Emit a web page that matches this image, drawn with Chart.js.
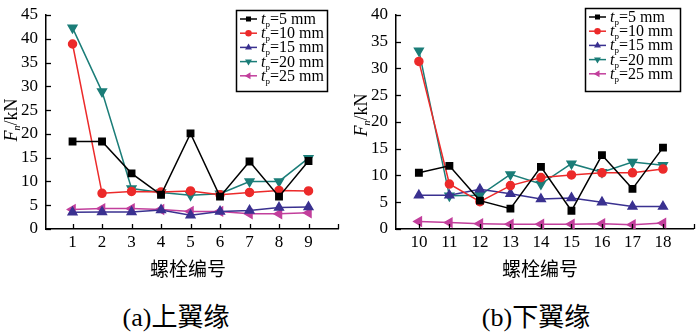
<!DOCTYPE html>
<html>
<head>
<meta charset="utf-8">
<script src="https://cdn.jsdelivr.net/npm/chart.js@4"></script>
<style>
  body { margin: 0; background: #fff; }
  #wrap { position: relative; width: 700px; height: 335px; overflow: hidden; }
  canvas { position: absolute; top: 0; }
  .sub { position: absolute; top: 296px; font-family: "Liberation Serif", "Noto Sans CJK SC", serif; font-size: 26px; color: #000; white-space: nowrap; transform: translateX(-50%); }
</style>
</head>
<body>
<div id="wrap">
  <canvas id="chartA" width="350" height="290" style="left:0"></canvas>
  <canvas id="chartB" width="350" height="290" style="left:350px"></canvas>
  <div class="sub" style="left:176px">(a)上翼缘</div>
  <div class="sub" style="left:536px">(b)下翼缘</div>
</div>
<script>
// bolt numbers
const boltsA = [1, 2, 3, 4, 5, 6, 7, 8, 9];
const boltsB = [10, 11, 12, 13, 14, 15, 16, 17, 18];

// upper flange (a), kN
const tp5A  = [18.4, 18.4, 11.7, 7.2, 20.1, 6.8, 14.2, 6.8, 14.3];
const tp10A = [38.9, 7.5, 7.9, 7.8, 8.0, 7.2, 7.7, 8.1, 8.0];
const tp15A = [3.5, 3.6, 3.6, 4.0, 2.9, 3.7, 3.9, 4.5, 4.6];
const tp20A = [42.3, 28.9, 8.5, 7.7, 7.1, 7.4, 10.0, 10.0, 14.9];
const tp25A = [4.1, 4.3, 4.3, 4.1, 3.7, 3.7, 3.2, 3.2, 3.4];

// lower flange (b), kN
const tp5B  = [10.5, 11.8, 5.3, 3.8, 11.6, 3.4, 13.8, 7.5, 15.2];
const tp10B = [31.3, 8.4, 5.1, 8.1, 9.6, 10.1, 10.5, 10.5, 11.2];
const tp15B = [6.3, 6.3, 7.4, 6.6, 5.6, 5.8, 5.0, 4.2, 4.2];
const tp20B = [33.3, 6.2, 6.3, 10.2, 8.4, 12.2, 10.6, 12.5, 11.9];
const tp25B = [1.4, 1.2, 1.0, 0.9, 0.9, 0.9, 1.0, 0.8, 1.1];

const seriesLabels = ['5 mm', '10 mm', '15 mm', '20 mm', '25 mm'];
const colors = ['#000000', '#ec2a2a', '#3a3190', '#1b7d78', '#c23f9c'];
const shapes = ['rect', 'circle', 'triangle', 'triangle', 'triangle'];
const rotations = [0, 0, 0, 180, -90];
const radii = [4.5, 4, 5, 5, 5];

const serif = '"Liberation Serif", "Times New Roman", serif';

function makeSets(xs, lists) {
    return lists.map((vals, i) => ({
        label: seriesLabels[i],
        data: vals.map((v, k) => ({ x: xs[k], y: v })),
        borderColor: colors[i],
        backgroundColor: colors[i],
        borderWidth: 1.5,
        pointStyle: shapes[i],
        pointRotation: rotations[i],
        pointRadius: radii[i],
        pointHoverRadius: radii[i],
        tension: 0
    }));
}

// axis titles, inward ticks and the boxed legend
const decor = {
    id: 'decor',
    afterDraw(chart) {
        const o = chart.options.plugins.decor;
        const { ctx, chartArea: a, scales: { x, y } } = chart;
        ctx.save();
        ctx.strokeStyle = '#000';
        ctx.lineWidth = 1.3;
        x.ticks.forEach(t => {
            const px = Math.round(x.getPixelForValue(t.value)) + 0.5;
            ctx.beginPath(); ctx.moveTo(px, a.bottom); ctx.lineTo(px, a.bottom - 5); ctx.stroke();
        });
        y.ticks.forEach(t => {
            const py = Math.round(y.getPixelForValue(t.value)) + 0.5;
            ctx.beginPath(); ctx.moveTo(a.left, py); ctx.lineTo(a.left + 5, py); ctx.stroke();
        });

        // x title
        ctx.fillStyle = '#000';
        ctx.font = '19px "Noto Sans CJK SC", sans-serif';
        ctx.textAlign = 'center';
        ctx.textBaseline = 'middle';
        ctx.fillText('螺栓编号', o.xTitleX, 269);

        // y title F_n/kN
        ctx.save();
        ctx.translate(11, o.yTitleY);
        ctx.rotate(-Math.PI / 2);
        ctx.textAlign = 'left';
        ctx.textBaseline = 'alphabetic';
        ctx.font = 'italic 18px ' + serif;
        const w1 = ctx.measureText('F').width;
        ctx.font = '18px ' + serif;
        const w3 = ctx.measureText('/kN').width;
        ctx.font = 'italic 10px ' + serif;
        const w2 = ctx.measureText('n').width;
        let sx = -(w1 + w2 + w3) / 2;
        ctx.font = 'italic 18px ' + serif;
        ctx.fillText('F', sx, 6); sx += w1;
        ctx.font = 'italic 10px ' + serif;
        ctx.fillText('n', sx, 9); sx += w2;
        ctx.font = '18px ' + serif;
        ctx.fillText('/kN', sx, 6);
        ctx.restore();

        // legend
        const L = o.legend;
        ctx.lineWidth = 1.5;
        ctx.strokeRect(L.x + 0.5, L.y + 0.5, L.w, L.h);
        chart.data.datasets.forEach((ds, i) => {
            const cy = L.y + 9 + i * 14.2;
            ctx.strokeStyle = ds.borderColor;
            ctx.lineWidth = 1.5;
            ctx.beginPath(); ctx.moveTo(L.x + 4, cy); ctx.lineTo(L.x + 21, cy); ctx.stroke();
            ctx.fillStyle = ds.borderColor;
            Chart.helpers.drawPoint(ctx, { pointStyle: ds.pointStyle, rotation: ds.pointRotation, radius: 2.5, borderWidth: 1 }, L.x + 12.5, cy);
            ctx.fillStyle = '#000';
            ctx.textAlign = 'left';
            ctx.textBaseline = 'alphabetic';
            let tx = L.x + 25;
            ctx.font = 'italic 16px ' + serif;
            ctx.fillText('t', tx, cy + 5);
            tx += ctx.measureText('t').width;
            ctx.font = '9px ' + serif;
            ctx.fillText('p', tx, cy + 8);
            tx += ctx.measureText('p').width;
            ctx.font = '16px ' + serif;
            ctx.fillText('=' + ds.label, tx, cy + 5);
        });
        ctx.restore();
    }
};

function makeChart(id, xs, lists, xmin, xmax, ymax, pad, decorOpts) {
    return new Chart(document.getElementById(id), {
        type: 'line',
        data: { datasets: makeSets(xs, lists) },
        plugins: [decor],
        options: {
            responsive: false,
            animation: false,
            layout: { padding: pad },
            plugins: { legend: { display: false }, tooltip: { enabled: false }, decor: decorOpts },
            scales: {
                x: {
                    type: 'linear',
                    min: xmin,
                    max: xmax,
                    afterFit: s => { s.height = 61; },
                    afterBuildTicks: s => {
                        s.ticks = [];
                        for (let v = Math.ceil(xmin); v <= xmax; v++) s.ticks.push({ value: v });
                    },
                    ticks: {
                        color: '#000',
                        padding: 3,
                        maxRotation: 0,
                        autoSkip: false,
                        font: { family: serif, size: 17 },
                        callback: v => (v === xmax ? '' : v)
                    },
                    grid: { display: false, drawTicks: false },
                    border: { display: true, color: '#000', width: 1.5 }
                },
                y: {
                    min: 0,
                    max: ymax,
                    afterFit: s => { s.width = 46; },
                    ticks: {
                        stepSize: 5,
                        color: '#000',
                        padding: 8,
                        font: { family: serif, size: 17, lineHeight: 0.8 }
                    },
                    grid: { display: false, drawTicks: false },
                    border: { display: true, color: '#000', width: 1.5 }
                }
            }
        }
    });
}

makeChart('chartA', boltsA, [tp5A, tp10A, tp15A, tp20A, tp25A], 0.1, 10, 45,
    { top: 15, right: 12, left: 0, bottom: 0 },
    { xTitleX: 188, yTitleY: 120, legend: { x: 236, y: 10, w: 91, h: 81 } });

makeChart('chartB', boltsB, [tp5B, tp10B, tp15B, tp20B, tp25B], 9.25, 19, 40,
    { top: 7, right: 6, left: 0, bottom: 0 },
    { xTitleX: 190, yTitleY: 115, legend: { x: 235, y: 8, w: 95, h: 83 } });
</script>
</body>
</html>
